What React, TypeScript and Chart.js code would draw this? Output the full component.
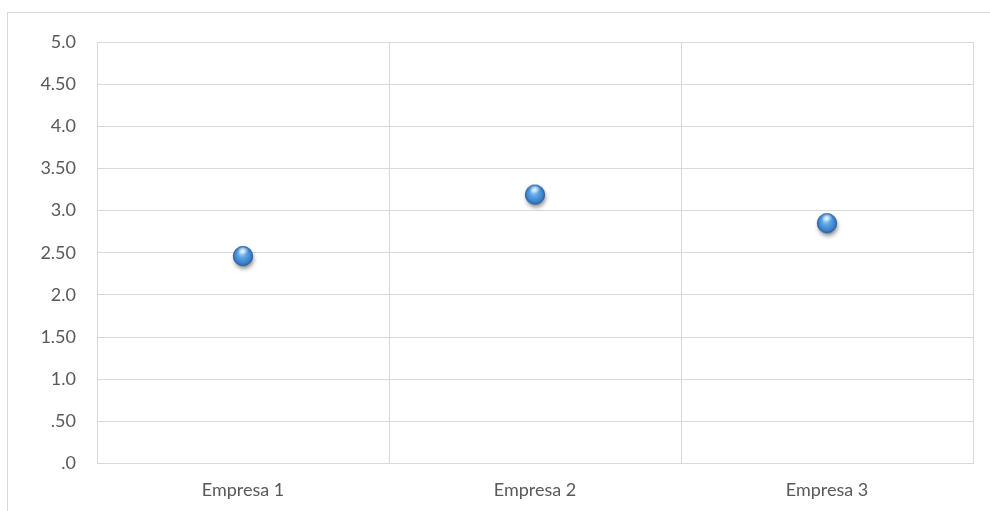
import React, { useEffect, useRef } from "react";
import { Chart, registerables } from "chart.js";

Chart.register(...registerables);

const categories: string[] = ["Empresa 1", "Empresa 2", "Empresa 3"];
const scores: number[] = [2.46, 3.19, 2.85];
const yTickLabels: string[] = [".0", ".50", "1.0", "1.50", "2.0", "2.50", "3.0", "3.50", "4.0", "4.50", "5.0"];

const GRID = "#d9d9d9";
const TEXT = "#595959";
const FONT = "Lato, 'Open Sans', sans-serif";

// Glossy blue ball used as the marker image
function makeSphere(): HTMLCanvasElement {
  const size = 34;
  const c = document.createElement("canvas");
  c.width = size;
  c.height = size;
  const ctx = c.getContext("2d")!;
  const cx = size / 2;
  const cy = size / 2;
  const r = 9.7;
  ctx.save();
  ctx.shadowColor = "rgba(0,0,0,0.45)";
  ctx.shadowBlur = 4;
  ctx.shadowOffsetX = 1;
  ctx.shadowOffsetY = 3;
  ctx.beginPath();
  ctx.arc(cx, cy, r, 0, Math.PI * 2);
  ctx.fillStyle = "#3a7fc8";
  ctx.fill();
  ctx.restore();

  const g = ctx.createRadialGradient(cx - 1.5, cy - 4, 1, cx, cy, r);
  g.addColorStop(0, "#a9d6fa");
  g.addColorStop(0.35, "#5fa6e6");
  g.addColorStop(0.8, "#3b83cc");
  g.addColorStop(1, "#2b66a8");
  ctx.beginPath();
  ctx.arc(cx, cy, r, 0, Math.PI * 2);
  ctx.fillStyle = g;
  ctx.fill();
  ctx.lineWidth = 0.8;
  ctx.strokeStyle = "#2a5f9c";
  ctx.stroke();

  // soft highlight at the top
  const h = ctx.createRadialGradient(cx, cy - 5.5, 0.5, cx, cy - 5.5, 5.5);
  h.addColorStop(0, "rgba(255,255,255,0.75)");
  h.addColorStop(1, "rgba(255,255,255,0)");
  ctx.beginPath();
  ctx.ellipse(cx, cy - 5.5, 5.5, 3.2, 0, 0, Math.PI * 2);
  ctx.fillStyle = h;
  ctx.fill();
  return c;
}

export default function App() {
  const canvasRef = useRef<HTMLCanvasElement | null>(null);

  useEffect(() => {
    if (!canvasRef.current) return;
    const sphere = makeSphere();
    const chart = new Chart(canvasRef.current, {
      type: "line",
      data: {
        labels: categories,
        datasets: [
          {
            data: scores,
            showLine: false,
            pointStyle: sphere as any,
            pointRadius: 10,
            pointHoverRadius: 10,
          },
        ],
      },
      options: {
        responsive: false,
        animation: false,
        layout: { padding: { top: 42, right: 17, left: 0, bottom: 0 } },
        plugins: {
          legend: { display: false },
          tooltip: { enabled: false },
        },
        scales: {
          x: {
            type: "category",
            offset: true,
            grid: { offset: true, color: GRID, lineWidth: 1, drawTicks: false },
            border: { color: GRID, width: 1 },
            ticks: {
              color: TEXT,
              font: { family: FONT, size: 18 },
              padding: 16,
              maxRotation: 0,
            },
            afterFit: (s: any) => {
              s.height = 47.5;
            },
          },
          y: {
            min: 0,
            max: 5,
            grid: { color: GRID, lineWidth: 1, drawTicks: false },
            border: { color: GRID, width: 1 },
            ticks: {
              stepSize: 0.5,
              color: TEXT,
              font: { family: FONT, size: 18 },
              padding: 21,
              callback: (_v: any, i: number) => yTickLabels[i],
            },
            afterFit: (s: any) => {
              s.width = 97;
            },
          },
        },
      },
    });
    return () => chart.destroy();
  }, []);

  return (
    <div style={{ position: "fixed", left: 0, top: 0, width: 990, height: 511, background: "#fff", overflow: "hidden" }}>
      <div
        style={{
          position: "absolute",
          left: 7,
          top: 12,
          width: 1000,
          height: 520,
          border: `1px solid ${GRID}`,
          boxSizing: "border-box",
        }}
      />
      <canvas ref={canvasRef} width={990} height={511} style={{ position: "absolute", left: 0, top: 0 }} />
    </div>
  );
}
